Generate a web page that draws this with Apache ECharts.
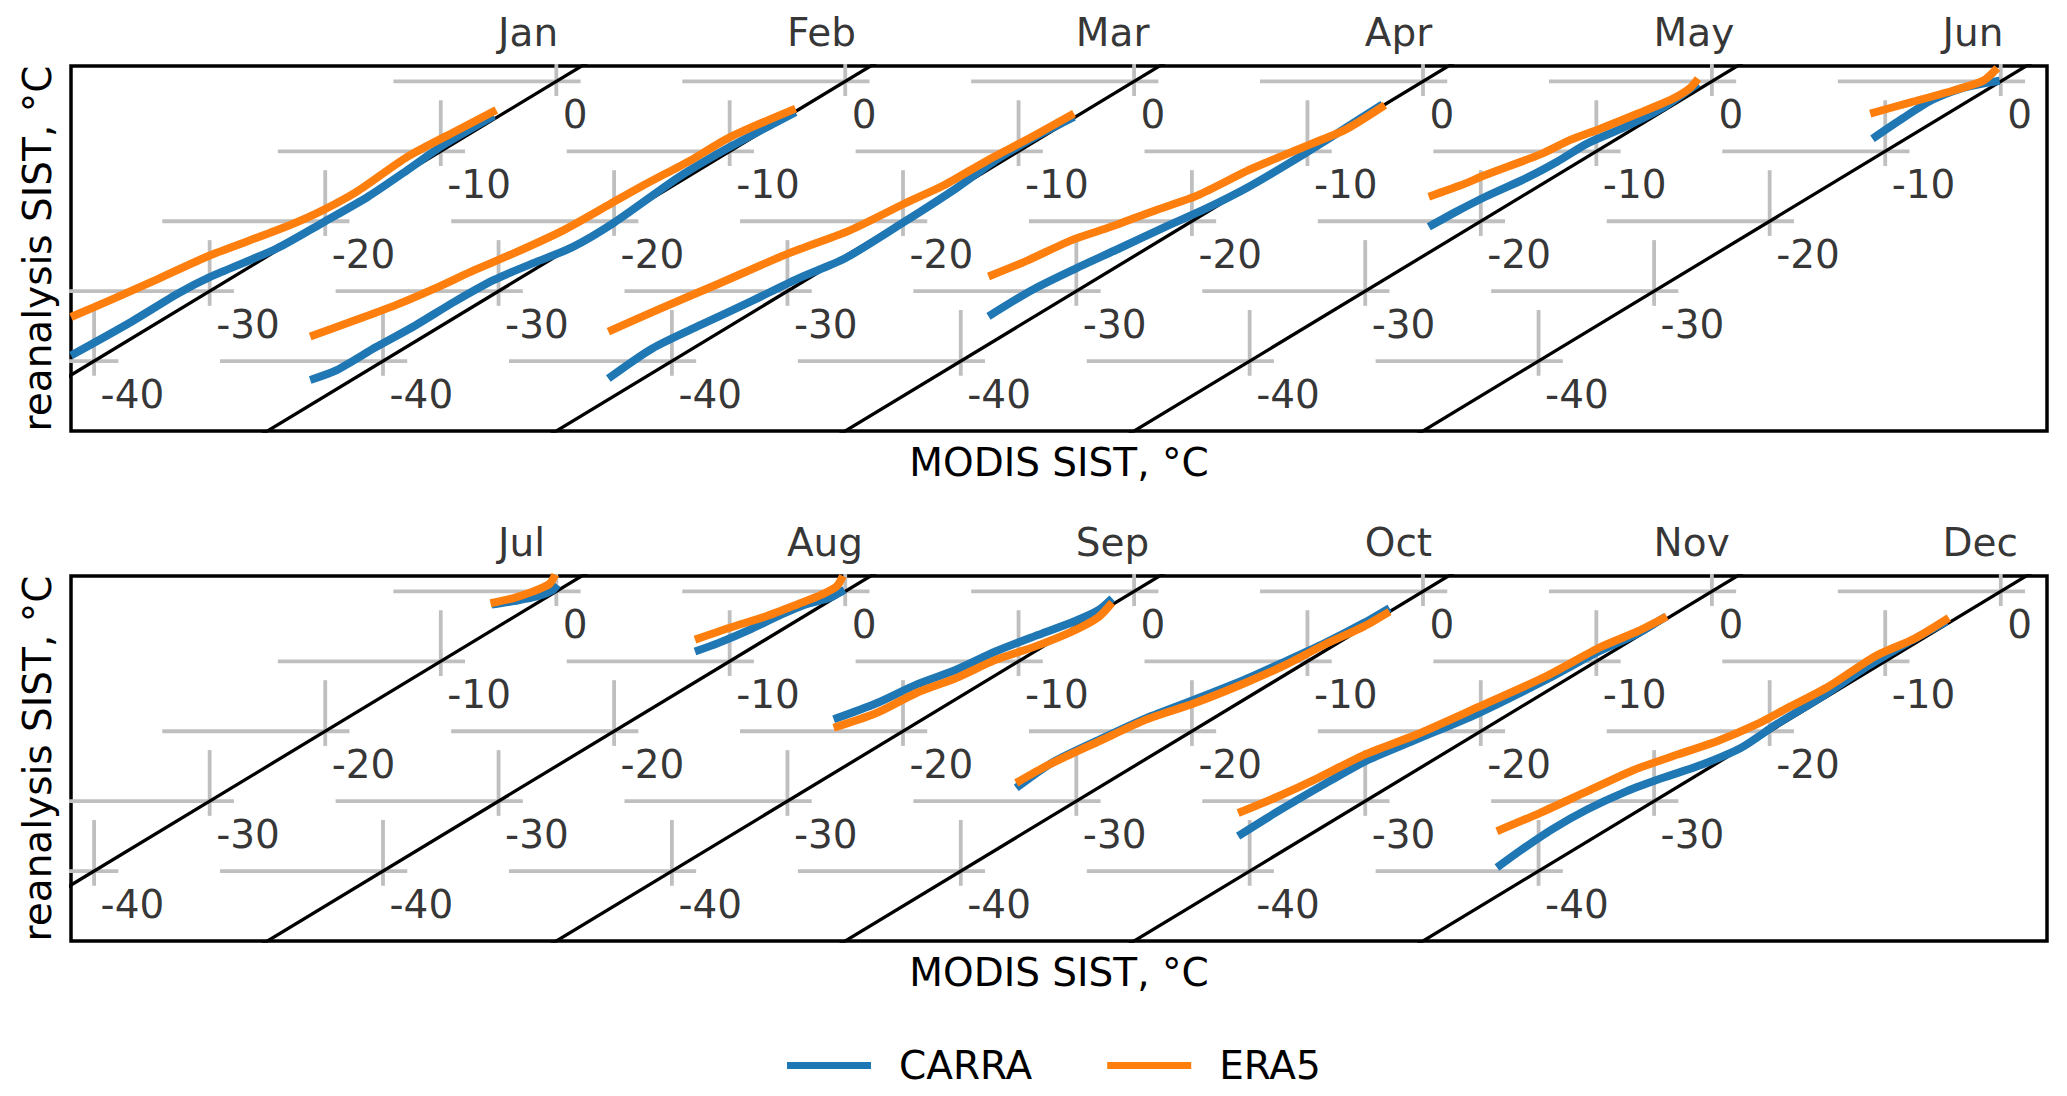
<!DOCTYPE html>
<html>
<head>
<meta charset="utf-8">
<script src="https://cdn.jsdelivr.net/npm/echarts@6/dist/echarts.min.js"></script>
<style>
html,body{margin:0;padding:0;background:#fff;}
#c{width:2067px;height:1096px;}
</style>
</head>
<body>
<div id="c"></div>
<script>
// ---------------- data ----------------
const monthsTop = ['Jan', 'Feb', 'Mar', 'Apr', 'May', 'Jun'];
const monthsBottom = ['Jul', 'Aug', 'Sep', 'Oct', 'Nov', 'Dec'];
const tickValues = [0, -10, -20, -30, -40];
const tickLabels = ['0', '-10', '-20', '-30', '-40'];
const monthShift = 25;          // °C shift between successive months on the common x axis
const xRange = [-42, 129];
const yRange = [-50, 2.2];

// [MODIS SIST, reanalysis SIST] in °C
const carraJan = [[-42,-39.2],[-36.8,-34.4],[-32.7,-30.3],[-30.0,-28.0],[-24.2,-23.9],[-20.1,-20.1],[-16.3,-16.5],[-12.9,-12.7],[-9.8,-9.1],[-5.4,-4.9]];
const era5Jan  = [[-42,-33.7],[-38.2,-31.0],[-34.4,-28.2],[-30.0,-24.9],[-24.2,-21.3],[-20.8,-18.9],[-17.3,-15.8],[-12.9,-10.8],[-8.8,-7.2],[-5.2,-4.1]];
const carraFeb = [[-46.3,-42.7],[-44.0,-41.3],[-40.6,-38.0],[-37.2,-34.9],[-33.8,-31.5],[-30.4,-28.4],[-27.0,-26.0],[-23.6,-23.7],[-20.0,-20.2],[-14.4,-13.7],[-10.0,-9.4],[-4.3,-4.4]];
const era5Feb  = [[-46.3,-36.5],[-42.3,-34.1],[-38.9,-32.0],[-35.5,-29.6],[-32.1,-27.0],[-28.7,-24.6],[-24.4,-21.3],[-20.3,-17.5],[-17.5,-14.9],[-13.4,-11.3],[-10.0,-8.0],[-4.3,-3.9]];
const carraMar = [[-45.5,-42.5],[-41.7,-38.2],[-37.6,-34.9],[-33.2,-31.5],[-29.1,-28.2],[-25.0,-25.3],[-19.9,-20.1],[-15.4,-15.3],[-12.0,-11.3],[-8.6,-8.0],[-5.2,-5.1]];
const era5Mar  = [[-45.5,-35.8],[-41.0,-32.5],[-35.9,-28.9],[-29.9,-24.6],[-24.6,-21.3],[-19.9,-17.5],[-16.5,-14.9],[-12.7,-11.3],[-8.9,-8.0],[-5.2,-4.6]];
const carraApr = [[-37.6,-33.6],[-33.9,-29.9],[-30.1,-26.8],[-26.3,-23.9],[-22.3,-20.8],[-18.8,-18.2],[-15.1,-15.1],[-11.3,-11.4],[-7.6,-7.6],[-3.5,-3.3]];
const era5Apr  = [[-37.6,-27.9],[-34.2,-25.6],[-30.4,-22.7],[-27.0,-20.8],[-22.9,-18.3],[-19.5,-16.3],[-15.1,-12.7],[-12.4,-10.8],[-9.6,-8.9],[-6.6,-6.8],[-3.3,-3.4]];
const carraMay = [[-24.5,-20.8],[-22.2,-18.7],[-19.6,-16.5],[-15.9,-13.7],[-13.4,-11.5],[-10.8,-8.9],[-7.5,-6.5],[-4.2,-3.7],[-1.2,-0.3]];
const era5May  = [[-24.5,-16.5],[-21.8,-14.9],[-19.6,-13.4],[-14.8,-10.4],[-12.3,-8.4],[-9.7,-6.8],[-6.4,-4.6],[-3.4,-2.5],[-1.95,-1.05],[-1.2,0.4]];
const carraJun = [[-11.1,-8.2],[-8.5,-5.3],[-6.0,-2.7],[-3.4,-1.0],[-1.2,-0.2],[-0.1,0.1]];
const era5Jun  = [[-11.3,-4.6],[-7.8,-3.0],[-4.1,-1.3],[-1.5,0.1],[-0.3,1.9]];
const carraJul = [[-5.6,-1.9],[-3.7,-1.4],[-1.6,-0.7],[-0.3,0.2],[0.1,0.95]];
const era5Jul  = [[-5.7,-1.7],[-3.7,-0.95],[-2.0,0.0],[-0.6,1.05],[-0.1,2.4]];
const carraAug = [[-13.0,-8.6],[-11.0,-7.4],[-8.3,-5.5],[-5.5,-3.3],[-3.5,-1.9],[-1.4,-0.95],[-0.07,0.24]];
const era5Aug  = [[-13.0,-6.9],[-10.0,-5.2],[-6.9,-3.6],[-4.2,-1.9],[-2.1,-0.5],[-0.75,0.7],[-0.2,2.2]];
const carraSep = [[-26.0,-18.3],[-22.3,-16.0],[-18.8,-13.3],[-15.4,-11.2],[-12.0,-8.6],[-8.6,-6.4],[-5.2,-4.3],[-3.1,-2.7],[-1.9,-1.0]];
const era5Sep  = [[-26.0,-19.5],[-22.3,-17.4],[-18.8,-14.5],[-15.4,-12.4],[-12.0,-9.8],[-8.6,-7.9],[-5.2,-5.6],[-3.1,-3.7],[-1.9,-1.6]];
const carraOct = [[-35.2,-28.1],[-32.1,-24.5],[-28.0,-21.2],[-23.9,-18.1],[-19.8,-15.5],[-15.4,-12.6],[-11.9,-10.0],[-8.5,-7.4],[-5.1,-4.5],[-2.9,-2.4]];
const era5Oct  = [[-35.2,-27.4],[-32.4,-24.8],[-28.0,-21.4],[-23.9,-18.3],[-19.8,-16.0],[-15.4,-13.1],[-11.9,-10.5],[-8.5,-7.6],[-5.1,-5.0],[-2.9,-2.9]];
const carraNov = [[-41.0,-35.0],[-37.5,-31.4],[-34.1,-28.1],[-30.0,-24.3],[-25.6,-21.2],[-20.3,-17.5],[-14.3,-12.6],[-9.8,-8.6],[-6.4,-6.0],[-4.0,-3.6]];
const era5Nov  = [[-41.0,-31.7],[-37.5,-29.3],[-34.1,-26.7],[-30.0,-23.3],[-25.6,-20.5],[-20.3,-16.6],[-14.3,-12.1],[-9.8,-8.1],[-6.4,-5.7],[-3.9,-3.6]];
const carraDec = [[-43.6,-39.5],[-41.6,-37.1],[-38.8,-34.0],[-35.8,-31.2],[-32.4,-28.6],[-29.3,-26.7],[-25.9,-24.8],[-22.5,-22.4],[-19.4,-19.0],[-15.6,-15.2],[-11.5,-10.7],[-7.8,-7.1],[-4.7,-4.3]];
const era5Dec  = [[-43.6,-34.3],[-39.9,-31.7],[-35.8,-28.6],[-31.7,-25.5],[-27.9,-23.3],[-24.5,-21.4],[-21.1,-19.0],[-18.7,-16.9],[-14.9,-13.6],[-10.9,-9.3],[-7.4,-6.7],[-4.5,-3.8]];

const panels = [
  { months: monthsTop,
    carra: [carraJan, carraFeb, carraMar, carraApr, carraMay, carraJun],
    era5:  [era5Jan, era5Feb, era5Mar, era5Apr, era5May, era5Jun] },
  { months: monthsBottom,
    carra: [carraJul, carraAug, carraSep, carraOct, carraNov, carraDec],
    era5:  [era5Jul, era5Aug, era5Sep, era5Oct, era5Nov, era5Dec] }
];

// ---------------- styles ----------------
const FONT = 'DejaVu Sans';
const FS = 39;
const BLUE = '#1f77b4';
const ORANGE = '#ff7f0e';
const GREY = '#bfbfbf';

const chart = echarts.init(document.getElementById('c'), null, { renderer: 'svg', width: 2067, height: 1096 });

const grids = [
  { left: 71, top: 66, width: 1976, height: 365 },
  { left: 71, top: 576, width: 1976, height: 365 }
].map(g => Object.assign(g, { show: true, borderColor: '#000', borderWidth: 3.5, backgroundColor: 'transparent', containLabel: false }));

const xAxes = grids.map((g, i) => ({
  gridIndex: i, type: 'value', min: xRange[0], max: xRange[1],
  axisLine: { show: false, onZero: false }, axisTick: { show: false },
  axisLabel: { show: false }, splitLine: { show: false },
  name: 'MODIS SIST, °C', nameLocation: 'middle', nameGap: 12,
  nameTextStyle: { fontSize: FS, color: '#000', fontFamily: FONT }
}));
const yAxes = grids.map((g, i) => ({
  gridIndex: i, type: 'value', min: yRange[0], max: yRange[1],
  axisLine: { show: false, onZero: false }, axisTick: { show: false },
  axisLabel: { show: false }, splitLine: { show: false },
  name: 'reanalysis SIST, °C', nameLocation: 'middle', nameGap: 14,
  nameTextStyle: { fontSize: FS, color: '#000', fontFamily: FONT }
}));

const series = [];
function lineSeries(g, data, color, width, z, name) {
  const s = {
    type: 'line', xAxisIndex: g, yAxisIndex: g, data: data,
    symbol: 'none', showSymbol: false, clip: true, silent: true, z: z,
    color: color, lineStyle: { color: color, width: width, cap: 'butt' },
    animation: false
  };
  if (name) { s.name = name; s.smooth = 0.25; s.lineStyle.join = 'round'; }
  return s;
}

panels.forEach((p, g) => {
  p.months.forEach((m, i) => {
    const off = i * monthShift;
    // grey tick crosses
    tickValues.forEach(t => {
      series.push(lineSeries(g, [[t - 14.1 + off, t], [t + 2.1 + off, t]], GREY, 3.8, 1));
      series.push(lineSeries(g, [[t + off, t - 2.1], [t + off, t + 7.3]], GREY, 3.8, 1));
    });
    // 1:1 line
    series.push(lineSeries(g, [[-60 + off, -60], [10 + off, 10]], '#000', 3.3, 2));
  });
  p.months.forEach((m, i) => {
    const off = i * monthShift;
    const shift = arr => arr.map(d => [d[0] + off, d[1]]);
    series.push(lineSeries(g, shift(p.carra[i]), BLUE, 8, 3, 'CARRA'));
    series.push(lineSeries(g, shift(p.era5[i]), ORANGE, 8, 4, 'ERA5'));
  });
  // tick labels along each 1:1 line
  series.push({
    type: 'scatter', xAxisIndex: g, yAxisIndex: g, clip: false, silent: true, z: 5,
    symbolSize: 1, itemStyle: { color: 'rgba(0,0,0,0)' }, animation: false,
    data: p.months.flatMap((m, i) => tickValues.map((t, k) => ({
      value: [t + i * monthShift, t], label: { formatter: tickLabels[k] }
    }))),
    label: { show: true, position: [7, 34], align: 'left', verticalAlign: 'middle',
             fontSize: FS, color: '#000', fontFamily: FONT }
  });
  // month titles
  series.push({
    type: 'scatter', xAxisIndex: g, yAxisIndex: g, clip: false, silent: true, z: 5,
    symbolSize: 1, itemStyle: { color: 'rgba(0,0,0,0)' }, animation: false,
    data: p.months.map((m, i) => ({ value: [i * monthShift - 5, yRange[1]], label: { formatter: m } })),
    label: { show: true, position: [0, -33], align: 'left', verticalAlign: 'middle',
             fontSize: FS, color: '#000', fontFamily: FONT }
  });
});

chart.setOption({
  animation: false,
  backgroundColor: '#fff',
  textStyle: { fontFamily: FONT },
  grid: grids,
  xAxis: xAxes,
  yAxis: yAxes,
  legend: {
    data: [{ name: 'CARRA', icon: 'rect', itemStyle: { color: BLUE, borderWidth: 0 } },
           { name: 'ERA5', icon: 'rect', itemStyle: { color: ORANGE, borderWidth: 0 } }],
    left: 787, top: 1046, padding: 0,
    itemWidth: 84, itemHeight: 7, itemGap: 75, selectedMode: false,
    itemStyle: { borderWidth: 0 },
    textStyle: { fontSize: FS, color: '#000', fontFamily: FONT, padding: [0, 0, 0, 23] }
  },
  series: series
});
</script>
</body>
</html>
